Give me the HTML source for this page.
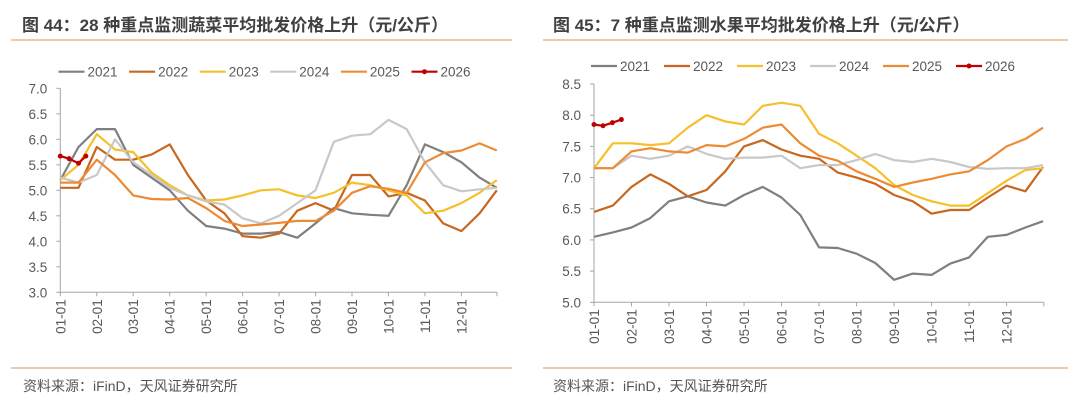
<!DOCTYPE html>
<html><head><meta charset="utf-8">
<style>
body{margin:0;background:#fff;width:1080px;height:406px;overflow:hidden;font-family:"Liberation Sans","Noto Sans CJK SC",sans-serif;}
svg text{font-family:"Liberation Sans","Noto Sans CJK SC",sans-serif;}
</style></head>
<body>
<svg id="svg" width="1080" height="406">
  <g>
    <text x="22" y="31" font-size="17" font-weight="bold" fill="#404040">图 44：28 种重点监测蔬菜平均批发价格上升（元/公斤）</text>
    <line x1="11" y1="40" x2="512" y2="40" stroke="#E9B98C" stroke-width="1.5"/>
  </g>
  <g>
    <text x="553" y="31" font-size="17" font-weight="bold" fill="#404040">图 45：7 种重点监测水果平均批发价格上升（元/公斤）</text>
    <line x1="543" y1="40" x2="1068" y2="40" stroke="#E9B98C" stroke-width="1.5"/>
  </g>
  <line x1="11" y1="368" x2="512" y2="368" stroke="#E9A36A" stroke-width="1.2"/>
  <line x1="543" y1="368" x2="1068" y2="368" stroke="#E9A36A" stroke-width="1.2"/>
  <text x="23" y="391" font-size="14" fill="#555">资料来源：iFinD，天风证券研究所</text>
  <text x="553" y="391" font-size="14" fill="#555">资料来源：iFinD，天风证券研究所</text>
  <g id="left"></g>
  <g id="right"></g>
</svg>
<script>
const monthTicks = ["01-01","02-01","03-01","04-01","05-01","06-01","07-01","08-01","09-01","10-01","11-01","12-01"];
const seriesNames = ["2021","2022","2023","2024","2025","2026"];
const seriesColors = ["#7F7F7F","#C8671E","#F5C02B","#C8C8C8","#ED8B35","#C00000"];
const gridMonths = [0,0.5,1,1.5,2,2.5,3,3.5,4,4.5,5,5.5,6,6.5,7,7.5,8,8.5,9,9.5,10,10.5,11,11.5,11.97];
// Left: vegetables
const vegYTicks = [3.0,3.5,4.0,4.5,5.0,5.5,6.0,6.5,7.0];
const veg2021 = [5.2,5.85,6.2,6.2,5.5,5.25,5.0,4.6,4.3,4.25,4.15,4.15,4.18,4.07,4.35,4.65,4.55,4.52,4.5,5.1,5.9,5.75,5.55,5.25,5.05];
const veg2022 = [5.05,5.05,5.85,5.6,5.6,5.7,5.9,5.3,4.8,4.55,4.1,4.07,4.15,4.6,4.75,4.6,5.3,5.3,4.88,4.95,4.8,4.35,4.2,4.55,5.0];
const veg2023 = [5.2,5.5,6.1,5.8,5.75,5.35,5.1,4.9,4.8,4.82,4.9,5.0,5.02,4.9,4.85,4.95,5.15,5.1,5.0,4.9,4.55,4.6,4.75,4.95,5.2];
const veg2024 = [5.25,5.15,5.3,6.0,5.55,5.3,5.05,4.9,4.78,4.72,4.45,4.35,4.5,4.75,5.0,5.95,6.07,6.1,6.38,6.2,5.55,5.1,4.98,5.02,5.05];
const veg2025 = [5.15,5.15,5.6,5.3,4.9,4.83,4.82,4.85,4.65,4.4,4.3,4.33,4.36,4.4,4.4,4.6,4.95,5.08,5.03,4.95,5.55,5.73,5.78,5.92,5.78];
const veg2026Months = [0,0.24,0.5,0.7];
const veg2026 = [5.67,5.62,5.53,5.67];
// Right: fruits
const fruitYTicks = [5.0,5.5,6.0,6.5,7.0,7.5,8.0,8.5];
const fruit2021 = [6.05,6.12,6.2,6.35,6.62,6.7,6.6,6.55,6.72,6.85,6.68,6.4,5.88,5.87,5.78,5.63,5.36,5.46,5.44,5.62,5.72,6.05,6.08,6.2,6.3];
const fruit2022 = [6.45,6.55,6.85,7.05,6.9,6.7,6.8,7.1,7.5,7.6,7.45,7.35,7.3,7.08,7.0,6.9,6.72,6.62,6.42,6.48,6.48,6.68,6.87,6.78,7.17];
const fruit2023 = [7.15,7.55,7.55,7.52,7.55,7.8,8.0,7.9,7.85,8.15,8.2,8.15,7.7,7.55,7.35,7.15,6.88,6.72,6.62,6.55,6.55,6.75,6.95,7.12,7.15];
const fruit2024 = [7.15,7.15,7.35,7.3,7.35,7.5,7.38,7.3,7.32,7.32,7.35,7.15,7.2,7.2,7.28,7.38,7.28,7.25,7.3,7.25,7.17,7.14,7.15,7.15,7.2];
const fruit2025 = [7.15,7.15,7.42,7.47,7.42,7.4,7.52,7.5,7.62,7.8,7.85,7.55,7.35,7.27,7.1,6.98,6.85,6.92,6.98,7.05,7.1,7.28,7.5,7.62,7.8];
const fruit2026Months = [0,0.24,0.49,0.73];
const fruit2026 = [7.85,7.83,7.88,7.93];

const NS = "http://www.w3.org/2000/svg";
function mk(parent, tag, attrs){const e=document.createElementNS(NS,tag);for(const k in attrs)e.setAttribute(k,attrs[k]);parent.appendChild(e);return e;}

function drawChart(g, cfg){
  const xS = m => cfg.x0 + (cfg.x11 - cfg.x0) * m / 11;
  const yS = v => cfg.yTop + (cfg.yBot - cfg.yTop) * (cfg.yMax - v) / (cfg.yMax - cfg.yMin);
  const ya = mk(g,'line',{x1:cfg.x0,y1:cfg.yTop,x2:cfg.x0,y2:cfg.yBot,stroke:'#A6A6A6','stroke-width':1});
  
  
  const xa = mk(g,'line',{x1:cfg.x0,y1:cfg.yBot,x2:cfg.xEnd,y2:cfg.yBot,stroke:'#A6A6A6','stroke-width':1});
  
  
  cfg.yTicks.forEach(v=>{
    const y=yS(v);
    const t=mk(g,'line',{x1:cfg.x0-4,y1:y,x2:cfg.x0,y2:y,stroke:'#A6A6A6'});
    
    
    const l=mk(g,'text',{x:cfg.x0-13,y:y+5,'text-anchor':'end','font-size':13.5,fill:'#595959'});
    l.textContent=v.toFixed(1);
    
    
  });
  monthTicks.forEach((lab,i)=>{
    const x=xS(i);
    const t=mk(g,'line',{x1:x,y1:cfg.yBot,x2:x,y2:cfg.yBot+4,stroke:'#A6A6A6'});
    
    
    const l=mk(g,'text',{x:0,y:0,'text-anchor':'end','font-size':13.5,fill:'#595959',transform:`translate(${x+5},${cfg.yBot+7}) rotate(-90)`});
    l.textContent=lab;
    
    
  });
  const t=mk(g,'line',{x1:cfg.xEnd,y1:cfg.yBot,x2:cfg.xEnd,y2:cfg.yBot+4,stroke:'#A6A6A6'});
  
  
  cfg.series.forEach((vals,si)=>{
    const months = si===5 ? cfg.m2026 : gridMonths;
    const pts = vals.map((v,i)=>xS(months[i]).toFixed(1)+','+yS(v).toFixed(1)).join(' ');
    const pl = mk(g,'polyline',{points:pts,fill:'none',stroke:seriesColors[si],'stroke-width':2.2,'stroke-linejoin':'round'});
    
    
    if(si===5){
      vals.forEach((v,i)=>{
        const c=mk(g,'circle',{cx:xS(months[i]),cy:yS(v),r:2.5,fill:seriesColors[5]});
        
        
      });
    }
  });
  seriesNames.forEach((n,i)=>{
    const lx=cfg.legX+i*cfg.legStep, ly=cfg.legY;
    const lg=mk(g,'g',{});
    
    
    mk(lg,'line',{x1:lx,y1:ly,x2:lx+26,y2:ly,stroke:seriesColors[i],'stroke-width':2.2});
    if(i===5) mk(lg,'circle',{cx:lx+13,cy:ly,r:2.5,fill:seriesColors[5]});
    const tx=mk(lg,'text',{x:lx+29,y:ly+5,'font-size':13.5,fill:'#595959'});
    tx.textContent=n;
  });
}

drawChart(document.getElementById('left'),{
  x0:60.3,x11:461.4,xEnd:497,yTop:88.3,yBot:292.3,yMin:3,yMax:7,yTicks:vegYTicks,
  series:[veg2021,veg2022,veg2023,veg2024,veg2025,veg2026],m2026:veg2026Months,
  legX:58.5,legY:71.7,legStep:70.6
});
drawChart(document.getElementById('right'),{
  x0:594,x11:1006.6,xEnd:1043.8,yTop:84,yBot:302.3,yMin:5,yMax:8.5,yTicks:fruitYTicks,
  series:[fruit2021,fruit2022,fruit2023,fruit2024,fruit2025,fruit2026],m2026:fruit2026Months,
  legX:591,legY:66,legStep:73
});
</script>
</body></html>
